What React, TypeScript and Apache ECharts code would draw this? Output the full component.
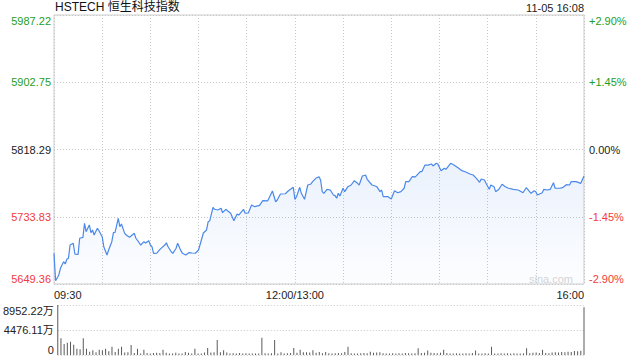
import React, { useEffect, useRef } from 'react';
import * as echarts from 'echarts';

const chartTitle = 'HSTECH 恒生科技指数';
const stamp = '11-05 16:08';
const watermark = 'sina.com';
const prevClose = 5818.29;
const priceStep = 84.465;
const priceTicks = ['5649.36', '5733.83', '5818.29', '5902.75', '5987.22'];
const pctTicks = ['-2.90%', '-1.45%', '0.00%', '+1.45%', '+2.90%'];
const timeTickMinutes = [0, 150, 330];
const timeTicks = ['09:30', '12:00/13:00', '16:00'];
const volMax = 8952.22;
const volTicks = ['0', '4476.11万', '8952.22万'];

// trading minutes since 09:30 (lunch break removed)
const minutes = [
  0, 1, 3, 4, 6, 7, 8, 9, 10, 12, 13, 15, 16, 18, 19, 20, 22, 23, 24, 25, 27, 28, 30, 31, 33, 34, 36, 37, 38, 40,
  41, 42, 44, 45, 47, 48, 50, 51, 53, 54, 56, 57, 59, 60, 61, 62, 64, 66, 69, 70, 71, 73, 74, 76, 77, 79, 80, 82, 84, 86,
  88, 90, 93, 95, 96, 97, 99, 100, 102, 104, 105, 107, 108, 110, 112, 114, 115, 118, 119, 121, 123, 125, 128, 130, 133, 136, 138, 139, 141, 144,
  146, 149, 150, 151, 153, 154, 156, 158, 160, 161, 163, 165, 166, 167, 168, 170, 172, 174, 175, 176, 177, 178, 180, 181, 183, 185, 187, 189, 190, 192,
  194, 195, 198, 200, 201, 203, 204, 205, 208, 210, 212, 214, 216, 218, 219, 221, 223, 225, 228, 229, 231, 233, 235, 236, 238, 239, 241, 243, 244, 247,
  249, 252, 254, 256, 259, 261, 263, 265, 266, 268, 269, 271, 272, 274, 275, 277, 279, 281, 283, 286, 289, 291, 292, 294, 295, 297, 299, 300, 301, 304,
  305, 307, 309, 311, 312, 315, 317, 319, 321, 322, 325, 328, 330,
];

const prices = [
  5687.9, 5653.5, 5660.7, 5669.1, 5677.4, 5674.5, 5680.4, 5681.6, 5698.3, 5700.5, 5687.0, 5686.5, 5706.8, 5708.0, 5725.6, 5715.1, 5723.5, 5713.8, 5717.2, 5710.9, 5719.3, 5716.3, 5708.8, 5696.2, 5685.8, 5692.1, 5702.5, 5713.8, 5714.2, 5731.9,
  5721.3, 5724.7, 5713.0, 5710.9, 5708.0, 5709.7, 5713.0, 5706.8, 5701.2, 5698.3, 5702.5, 5700.9, 5703.7, 5698.3, 5696.2, 5687.9, 5688.2, 5692.9, 5698.3, 5701.2, 5696.2, 5689.9, 5687.9, 5694.2, 5700.5, 5691.2, 5687.9, 5685.8, 5688.7, 5688.3,
  5688.0, 5692.1, 5713.4, 5717.2, 5727.6, 5728.9, 5745.7, 5743.2, 5742.3, 5744.4, 5738.9, 5743.2, 5741.4, 5738.2, 5728.9, 5737.3, 5736.0, 5743.2, 5738.2, 5738.6, 5748.6, 5746.5, 5748.2, 5754.0, 5753.7, 5766.2, 5752.7, 5754.9, 5762.4, 5762.7,
  5766.5, 5770.8, 5755.7, 5759.0, 5770.8, 5763.3, 5755.7, 5773.7, 5775.0, 5777.9, 5782.1, 5784.1, 5780.0, 5765.3, 5763.3, 5768.3, 5767.4, 5761.1, 5760.3, 5757.0, 5763.3, 5759.9, 5769.6, 5765.3, 5771.6, 5773.7, 5779.1, 5775.8, 5773.7, 5785.0,
  5786.3, 5780.9, 5773.7, 5772.5, 5771.6, 5765.3, 5767.4, 5759.0, 5759.0, 5756.1, 5766.5, 5764.0, 5765.3, 5769.6, 5777.9, 5778.0, 5784.1, 5784.0, 5790.4, 5790.4, 5798.8, 5798.6, 5800.1, 5797.6, 5801.0, 5800.1, 5791.7, 5794.7, 5793.4, 5801.0,
  5798.8, 5794.7, 5791.7, 5790.4, 5787.5, 5786.3, 5782.1, 5777.1, 5781.2, 5780.0, 5775.8, 5768.3, 5773.7, 5771.6, 5765.3, 5768.3, 5774.6, 5771.6, 5769.6, 5768.3, 5767.4, 5765.3, 5764.0, 5770.3, 5768.3, 5763.3, 5766.5, 5765.3, 5761.1, 5764.0,
  5768.3, 5767.4, 5768.3, 5776.6, 5769.6, 5769.6, 5770.8, 5774.1, 5773.7, 5777.9, 5778.0, 5775.8, 5785.0,
];

// volume (万), one bar per two trading minutes
const volumes = [
  8952, 2990, 1970, 2200, 2390, 1850, 1130, 1050, 2990, 1130, 600, 840, 500, 960, 840, 1130, 660, 1490, 550, 1130,
  1490, 450, 500, 1790, 350, 1130, 250, 960, 350, 250, 350, 400, 350, 960, 400, 250, 250, 400, 250, 250,
  550, 400, 250, 1130, 250, 250, 450, 1250, 450, 500, 2690, 500, 840, 450, 250, 300, 250, 350, 250, 300,
  250, 250, 250, 250, 3100, 300, 250, 300, 2690, 250, 500, 250, 300, 350, 1250, 400, 960, 500, 500, 450,
  840, 400, 550, 300, 550, 300, 250, 300, 350, 300, 550, 1490, 300, 250, 250, 300, 350, 300, 600, 400,
  450, 500, 300, 250, 250, 300, 250, 300, 250, 350, 300, 250, 300, 1200, 350, 400, 800, 400, 350, 300,
  400, 960, 350, 250, 250, 300, 250, 250, 300, 250, 350, 800, 250, 250, 300, 250, 1490, 250, 250, 300,
  250, 300, 250, 300, 250, 250, 300, 1200, 300, 400, 450, 350, 960, 350, 300, 450, 500, 450, 550, 500,
  600, 550, 700, 650, 750, 8540,
];

const FONT = 'Arial, "Liberation Sans", "Noto Sans CJK SC", sans-serif';
const GREEN = '#1e9e1e';
const RED = '#f23a3a';
const DARK = '#222';
const GRID_LINE = { color: '#c8c8c8', type: [1, 2] as any, width: 1 };

const tickColor = (i: number) => (i > 2 ? GREEN : i < 2 ? RED : DARK);

function buildOption() {
  return {
    animation: false,
    textStyle: { fontFamily: FONT },
    graphic: [
      { type: 'text', left: 55, top: 1, style: { text: chartTitle, font: `12px ${FONT}`, fill: '#111' } },
      { type: 'text', right: 56, top: 2, style: { text: stamp, font: `11px ${FONT}`, fill: '#222' } },
      { type: 'text', right: 67, top: 273, z: 0, style: { text: watermark, font: `11px ${FONT}`, fill: '#d6d6d6' } },
    ],
    grid: [
      { left: 54, top: 15, width: 530, height: 269, show: true, borderColor: '#cccccc', borderWidth: 1 },
      { left: 54, top: 305, width: 530, height: 50 },
    ],
    xAxis: [
      {
        type: 'value', gridIndex: 0, min: 0, max: 330, interval: 30,
        axisLine: { show: false }, axisTick: { show: false },
        axisLabel: {
          formatter: (v: number) => {
            const i = timeTickMinutes.indexOf(Math.round(v));
            return i >= 0 ? timeTicks[i] : '';
          },
          color: DARK, fontSize: 11, fontFamily: FONT, margin: 5,
          showMinLabel: true, showMaxLabel: true,
          alignMinLabel: 'left', alignMaxLabel: 'right',
        },
        splitLine: { show: true, lineStyle: GRID_LINE },
      },
      {
        type: 'value', gridIndex: 1, min: 0, max: 330, interval: 30,
        axisLine: { show: false }, axisTick: { show: false }, axisLabel: { show: false },
        splitLine: { show: false },
      },
    ],
    yAxis: [
      {
        type: 'value', gridIndex: 0, min: -2, max: 2, interval: 1, position: 'left',
        axisLine: { show: false }, axisTick: { show: false },
        axisLabel: {
          formatter: (v: number) => priceTicks[Math.round(Number(v)) + 2],
          color: (v: any) => tickColor(Math.round(Number(v)) + 2),
          fontSize: 11, fontFamily: FONT, margin: 3,
          showMinLabel: true, showMaxLabel: true,
          verticalAlignMinLabel: 'bottom', verticalAlignMaxLabel: 'top',
        },
        splitLine: { show: true, lineStyle: GRID_LINE },
      },
      {
        type: 'value', gridIndex: 0, min: -2, max: 2, interval: 1, position: 'right',
        axisLine: { show: false }, axisTick: { show: false },
        axisLabel: {
          formatter: (v: number) => pctTicks[Math.round(Number(v)) + 2],
          color: (v: any) => tickColor(Math.round(Number(v)) + 2),
          fontSize: 11, fontFamily: FONT, margin: 5,
          showMinLabel: true, showMaxLabel: true,
          verticalAlignMinLabel: 'bottom', verticalAlignMaxLabel: 'top',
        },
        splitLine: { show: false },
      },
      {
        type: 'value', gridIndex: 1, min: 0, max: volMax, interval: volMax / 2, position: 'left',
        axisLine: { show: false }, axisTick: { show: false },
        axisLabel: {
          formatter: (v: number) => volTicks[Math.round(Number(v) / (volMax / 2))],
          color: DARK, fontSize: 11, fontFamily: FONT, margin: 4,
          showMinLabel: true, showMaxLabel: true,
          verticalAlignMinLabel: 'bottom', verticalAlignMaxLabel: 'top',
        },
        splitLine: { show: true, lineStyle: GRID_LINE },
      },
    ],
    series: [
      {
        type: 'line', xAxisIndex: 0, yAxisIndex: 0,
        data: minutes.map((m, i) => [m, (prices[i] - prevClose) / priceStep]),
        showSymbol: false, symbol: 'none',
        lineStyle: { color: '#4a88ea', width: 1.2 },
        areaStyle: {
          origin: 'start',
          color: new echarts.graphic.LinearGradient(0, 0, 0, 1, [
            { offset: 0, color: 'rgba(74,136,234,0.16)' },
            { offset: 1, color: 'rgba(74,136,234,0.02)' },
          ]),
        },
        z: 3,
      },
      {
        type: 'bar', xAxisIndex: 1, yAxisIndex: 2,
        data: volumes.map((v, i) => [i * 2, v]),
        barWidth: 1,
        itemStyle: { color: '#5a5a5a' },
      },
    ],
  };
}

export default function App() {
  const ref = useRef<HTMLDivElement>(null);
  useEffect(() => {
    document.body.style.margin = '0';
    const chart = echarts.init(ref.current!, undefined, { renderer: 'svg' });
    chart.setOption(buildOption() as any);
    return () => chart.dispose();
  }, []);
  return <div ref={ref} style={{ width: 640, height: 360 }} />;
}
